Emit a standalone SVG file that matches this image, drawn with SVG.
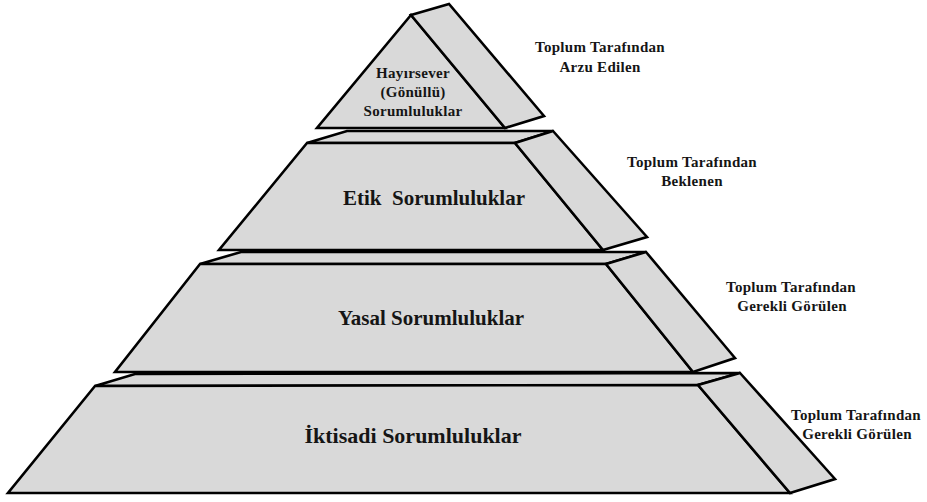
<svg xmlns="http://www.w3.org/2000/svg" width="927" height="502" viewBox="0 0 927 502">
<style>
.f{fill:#d9d9d9;stroke:#000;stroke-width:2.6;stroke-linejoin:miter}
.t{font-family:"Liberation Serif","Times New Roman",serif;font-weight:bold;fill:#151515;text-anchor:middle}
.big{font-size:21px;white-space:pre}
.mid{font-size:15px;letter-spacing:0.3px}
.lab{font-size:15px;letter-spacing:0.3px}
</style>
<rect width="927" height="502" fill="#fff"/>
<g id="level4">
<polygon class="f" points="135,374 740,373 698,385 95,386"/>
<polygon class="f" points="95,386 698,385 790,493 8,493"/>
<polygon class="f" points="740,373 835,479 790,493 698,385"/>
<text class="t big" x="413" y="443" style="font-size:22px">İktisadi Sorumluluklar</text>
</g>
<g id="level3">
<polygon class="f" points="241,252 646,252 606,264 200,264"/>
<polygon class="f" points="200,264 606,264 693,372 115,372"/>
<polygon class="f" points="646,252 735,358 693,372 606,264"/>
<text class="t big" x="431" y="325">Yasal Sorumluluklar</text>
</g>
<g id="level2">
<polygon class="f" points="347,131 553,131 515,143 307,143"/>
<polygon class="f" points="307,143 515,143 603,250 219,250"/>
<polygon class="f" points="553,131 647,237 603,250 515,143"/>
<text class="t big" x="434" y="205">Etik  Sorumluluklar</text>
</g>
<g id="level1">
<polygon class="f" points="411,15 505,128 317,128"/>
<polygon class="f" points="411,15 449,4 544,116 505,128"/>
<text class="t mid" x="413" y="78">Hayırsever</text>
<text class="t mid" x="413" y="97">(Gönüllü)</text>
<text class="t mid" x="413" y="116">Sorumluluklar</text>
</g>
<g id="label1">
<text class="t lab" x="600" y="52">Toplum Tarafından</text>
<text class="t lab" x="600" y="72">Arzu Edilen</text>
</g>
<g id="label2">
<text class="t lab" x="692" y="167">Toplum Tarafından</text>
<text class="t lab" x="692" y="186">Beklenen</text>
</g>
<g id="label3">
<text class="t lab" x="791" y="292">Toplum Tarafından</text>
<text class="t lab" x="792" y="311">Gerekli Görülen</text>
</g>
<g id="label4">
<text class="t lab" x="856" y="420">Toplum Tarafından</text>
<text class="t lab" x="857" y="439">Gerekli Görülen</text>
</g>
</svg>
